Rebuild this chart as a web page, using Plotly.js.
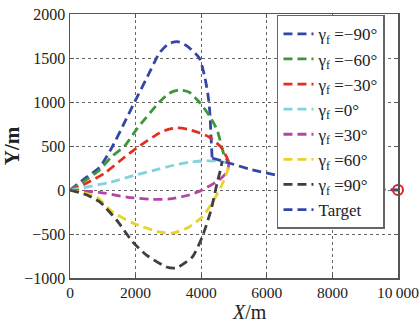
<!DOCTYPE html>
<html><head><meta charset="utf-8">
<script src="https://cdn.plot.ly/plotly-3.0.1.min.js"></script>
<style>html,body{margin:0;padding:0;background:#fff}#chart{width:419px;height:329px}</style>
</head><body><div id="chart"></div>
<script>
// Series data (X/m, Y/m)
var seriesNames = ["γ<sub>f</sub> =−90°","γ<sub>f</sub> =−60°","γ<sub>f</sub> =−30°","γ<sub>f</sub> =0°","γ<sub>f</sub> =30°","γ<sub>f</sub> =60°","γ<sub>f</sub> =90°","Target"];
var seriesColors = ["#3346a6","#3d963a","#e2301f","#84d2dc","#b444a6","#e9d22a","#3f3f3f","#3346a6"];

var xM90 = [0,515,909,1270,1667,1970,2350,2727,3000,3270,3550,3940,4100,4200,4260,4300,4333];
var yM90 = [0,148,261,477,770,1000,1280,1557,1660,1685,1640,1500,1300,1100,900,600,364];

var xM60 = [0,515,909,1270,1667,2030,2727,3030,3333,3636,3940,4240,4485,4700,4848];
var yM60 = [0,120,230,380,500,690,1000,1100,1136,1110,1000,850,682,398,307];

var xM30 = [0,515,1060,1667,2030,2727,3000,3270,3600,3940,4240,4600,4790,4848];
var yM30 = [0,80,193,375,477,648,690,705,690,650,602,489,364,307];

var x0 = [0,515,1200,2000,2727,3030,3636,4030,4450,4848];
var y0 = [0,34,85,170,240,270,315,330,330,307];

var xP30 = [0,515,850,1730,2424,3030,3636,4030,4545,4790,4848];
var yP30 = [0,-15,-23,-80,-105,-102,-57,0,114,205,307];

var xP60 = [0,515,818,1300,1910,2727,3120,3636,4030,4333,4600,4790,4848];
var yP60 = [0,-40,-80,-250,-375,-477,-490,-420,-307,-148,34,205,307];

var xP90 = [0,515,909,1420,1910,2333,2940,3240,3730,4030,4300,4485,4600,4640];
var yP90 = [0,-57,-136,-341,-590,-739,-875,-886,-761,-534,-227,80,250,330];

var xTarget = [4333,4848,5500,6270,7000,7800,8600,9300,10000];
var yTarget = [364,307,235,170,115,70,35,11,0];

var targetStartX = [10000];
var targetStartY = [0];

var xTickVals = [0,2000,4000,6000,8000,10000];
var xTickText = ["0","2000","4000","6000","8000","10\u2009000"];
var yTickVals = [-1000,-500,0,500,1000,1500,2000];
var yTickText = ["−1000","−500","0","500","1000","1500","2000"];

var xs = [xM90,xM60,xM30,x0,xP30,xP60,xP90,xTarget];
var ys = [yM90,yM60,yM30,y0,yP30,yP60,yP90,yTarget];

var traces = xs.map(function(x,i){
  return {x:x, y:ys[i], type:"scatter", mode:"lines", name:seriesNames[i],
    line:{color:seriesColors[i], width:2.8, dash:"9px,5px", shape:"spline", smoothing:0.6}};
});
traces.push({x:targetStartX, y:targetStartY, type:"scatter", mode:"markers", showlegend:false,
  cliponaxis:false,
  marker:{symbol:"circle-open", size:10, color:"#e02020", line:{width:2, color:"#e02020"}}});

var serif = "Liberation Serif, Times New Roman, serif";
var layout = {
  width:419, height:329,
  margin:{l:70, r:21, t:14, b:51},
  paper_bgcolor:"#fff", plot_bgcolor:"#fff",
  font:{family:serif, size:14, color:"#222"},
  showlegend:true,
  legend:{x:0.631, y:0.997, xanchor:"left", yanchor:"top", bgcolor:"#fff",
    bordercolor:"#666", borderwidth:1.5, font:{family:serif, size:17, color:"#222"},
    tracegroupgap:0, itemwidth:30},
  xaxis:{range:[0,10000], tickvals:xTickVals, ticktext:xTickText, showgrid:true,
    gridcolor:"#666", griddash:"dot", gridwidth:1, zeroline:false, ticklabeloverflow:"allow",
    showline:true, linecolor:"#555", linewidth:1.5, mirror:"ticks", ticks:"inside", ticklen:4, tickcolor:"#555",
    tickfont:{family:serif, size:15.5, color:"#222"}},
  yaxis:{range:[-1000,2000], tickvals:yTickVals, ticktext:yTickText, showgrid:true,
    gridcolor:"#666", griddash:"dot", gridwidth:1, zeroline:false,
    showline:true, linecolor:"#555", linewidth:1.5, mirror:"ticks", ticks:"inside", ticklen:4, tickcolor:"#555",
    tickfont:{family:serif, size:16, color:"#222"},
    title:{text:"<b>Y/m</b>", font:{family:serif, size:21, color:"#222"}, standoff:4}},
  annotations:[{text:"<i>X</i>/m", xref:"paper", yref:"paper", x:0.548, y:-0.127,
    xanchor:"center", yanchor:"middle", showarrow:false, font:{family:serif, size:20, color:"#222"}}]
};
Plotly.newPlot("chart", traces, layout, {displayModeBar:false, staticPlot:true});
</script></body></html>
